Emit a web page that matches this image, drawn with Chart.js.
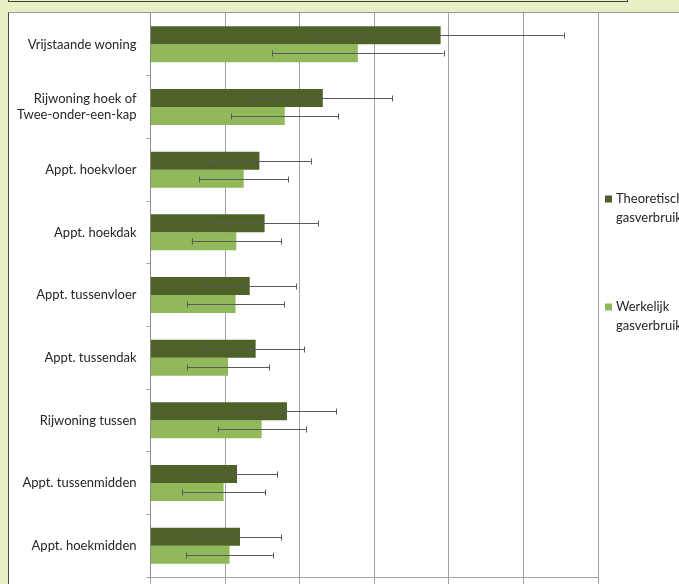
<!DOCTYPE html>
<html>
<head>
<meta charset="utf-8">
<script src="https://cdn.jsdelivr.net/npm/chart.js@4.4.1/dist/chart.umd.min.js"></script>
<style>
  html, body { margin: 0; padding: 0; }
  body {
    width: 679px; height: 584px; overflow: hidden; position: relative;
    background: #e8efc5; font-family: Lato, "Open Sans", sans-serif;
  }
  #topBox {
    position: absolute; left: 8px; top: -20px; width: 620px; height: 22px;
    border: 1px solid #3c3c3c; box-sizing: border-box;
  }
  #panel {
    position: absolute; left: 8px; top: 12px; width: 700px; height: 600px;
    background: #fff; border-left: 1px solid #4a4a4a; border-top: 1px solid #9a9a9a;
  }
  #wrap { position: absolute; left: 9px; top: 13px; width: 760px; height: 600px; }
</style>
</head>
<body>
<div id="topBox"></div>
<div id="panel"></div>
<div id="wrap"><canvas id="gasChart"></canvas></div>
<script>
// ===== Data (m3 gas per year) =====
const categories = [
  "Vrijstaande woning",
  ["Rijwoning hoek of", "Twee-onder-een-kap"],
  "Appt. hoekvloer",
  "Appt. hoekdak",
  "Appt. tussenvloer",
  "Appt. tussendak",
  "Rijwoning tussen",
  "Appt. tussenmidden",
  "Appt. hoekmidden"
];
const seriesNames = ["Theoretisch gasverbruik", "Werkelijk gasverbruik"];
const theoretical = [3890, 2310, 1460, 1530, 1330, 1410, 1830, 1160, 1200];
const theoreticalErr = [1650, 930, 690, 720, 620, 650, 660, 540, 550];
const actual = [2780, 1800, 1250, 1150, 1140, 1040, 1490, 980, 1060];
const actualErr = [1150, 720, 600, 600, 650, 550, 590, 560, 580];
const xTicks = [0, 1000, 2000, 3000, 4000, 5000, 6000];

const darkGreen = "#4d6129";
const lightGreen = "#91b85b";
const gridGrey = "#a3a3a3";

// ===== Error bars =====
const errorBars = {
  id: "errorBars",
  afterDatasetsDraw(chart) {
    const ctx = chart.ctx;
    const x = chart.scales.x;
    const errs = [theoreticalErr, actualErr];
    ctx.save();
    ctx.strokeStyle = "#5a5a5a";
    ctx.lineWidth = 1;
    chart.data.datasets.forEach((ds, i) => {
      chart.getDatasetMeta(i).data.forEach((bar, j) => {
        const v = ds.data[j], e = errs[i][j];
        const x1 = x.getPixelForValue(v - e), x2 = x.getPixelForValue(v + e);
        const y = Math.round(bar.y) + 0.5;
        ctx.beginPath();
        ctx.moveTo(x1, y); ctx.lineTo(x2, y);
        ctx.moveTo(Math.round(x1) + 0.5, y - 3); ctx.lineTo(Math.round(x1) + 0.5, y + 3);
        ctx.moveTo(Math.round(x2) + 0.5, y - 3); ctx.lineTo(Math.round(x2) + 0.5, y + 3);
        ctx.stroke();
      });
    });
    ctx.restore();
  }
};

// ===== Legend on the right, two-line labels =====
const sideLegend = {
  id: "sideLegend",
  afterDraw(chart) {
    const ctx = chart.ctx;
    const left = chart.chartArea.right + 7;
    const tops = [186, 294];
    ctx.save();
    ctx.font = "13px Lato";
    ctx.textBaseline = "middle";
    chart.data.datasets.forEach((ds, i) => {
      ctx.fillStyle = ds.backgroundColor;
      ctx.fillRect(left, tops[i] - 3.5, 7, 7);
      ctx.fillStyle = "#262626";
      ds.label.split(" ").forEach((line, k) => {
        ctx.fillText(line, left + 11, tops[i] + k * 18.5);
      });
    });
    ctx.restore();
  }
};

new Chart(document.getElementById("gasChart"), {
  type: "bar",
  data: {
    labels: categories,
    datasets: [
      { label: seriesNames[0], data: theoretical, backgroundColor: darkGreen },
      { label: seriesNames[1], data: actual, backgroundColor: lightGreen }
    ]
  },
  options: {
    indexAxis: "y",
    responsive: true,
    maintainAspectRatio: false,
    animation: false,
    categoryPercentage: 0.575,
    barPercentage: 1.0,
    layout: { padding: { left: 0, top: 0, right: 171, bottom: 0 } },
    plugins: { legend: { display: false }, tooltip: { enabled: false } },
    scales: {
      x: {
        min: xTicks[0],
        max: xTicks[xTicks.length - 1],
        afterBuildTicks: s => { s.ticks = xTicks.map(v => ({ value: v })); },
        ticks: { display: false },
        grid: { color: gridGrey, tickLength: 8 },
        border: { color: gridGrey },
        afterFit: s => { s.height = 36; s.paddingLeft = 0; s.paddingRight = 0; }
      },
      y: {
        ticks: { color: "#262626", font: { family: "Lato", size: 13 }, padding: 10 },
        grid: { drawOnChartArea: false, color: gridGrey, tickLength: 4 },
        border: { color: "#8a8a8a" },
        afterFit: s => { s.width = 141.5; s.paddingTop = 0; s.paddingBottom = 0; }
      }
    }
  },
  plugins: [errorBars, sideLegend]
});
</script>
</body>
</html>
